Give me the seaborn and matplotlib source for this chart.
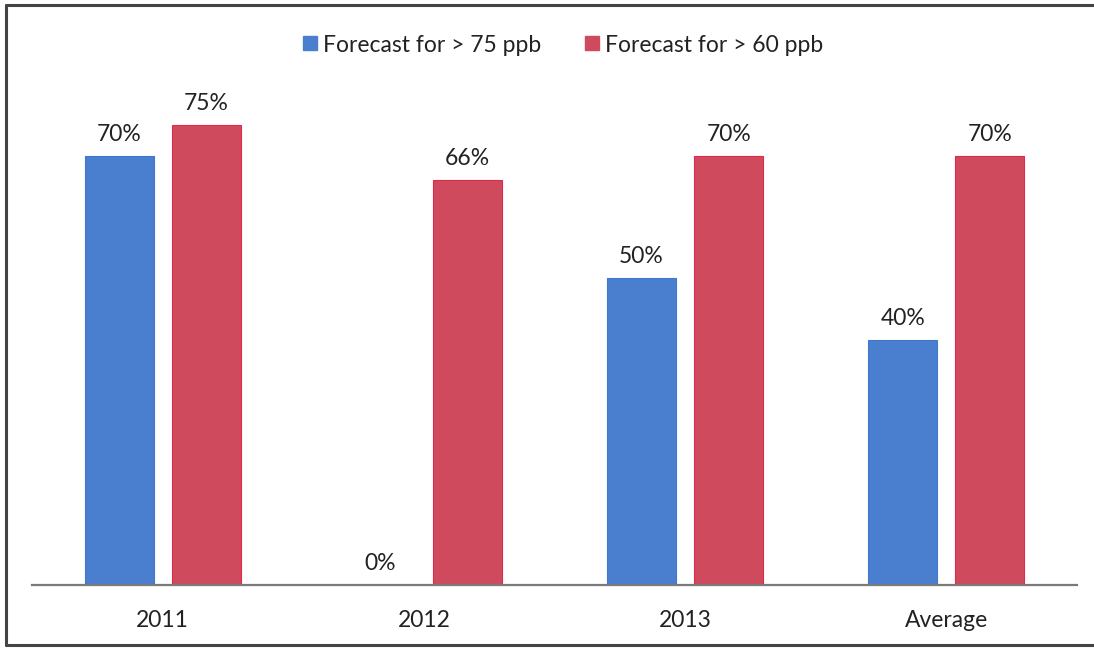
import matplotlib
matplotlib.use("Agg")
import matplotlib.pyplot as plt
import seaborn as sns
import pandas as pd
from matplotlib.lines import Line2D

categories = ["2011", "2012", "2013", "Average"]
series_names = ["Forecast for > 75 ppb", "Forecast for > 60 ppb"]
above_75 = [0.70, 0.00, 0.50, 0.40]
above_60 = [0.75, 0.66, 0.70, 0.70]

df = pd.DataFrame({
    "year": categories * 2,
    "series": [series_names[0]] * 4 + [series_names[1]] * 4,
    "share": above_75 + above_60,
})

sns.set_theme(style="white")
plt.rcParams["font.family"] = ["Lato", "DejaVu Sans"]

palette = {series_names[0]: "#4a7fd0", series_names[1]: "#cf4a5d"}
text_color = "#222222"
fs = 16.5

fig = plt.figure(figsize=(10.94, 6.48), dpi=100)
ax = fig.add_axes([32 / 1094, 63 / 648, 1045 / 1094, 0.9 * 613 / 648])

sns.barplot(data=df, x="year", y="share", hue="series", order=categories,
            hue_order=series_names, palette=palette, width=0.667, gap=0.207,
            saturation=1, legend=False, ax=ax)

edge = {0: "#3f78cc", 1: "#e02a4c"}
for i, cont in enumerate(ax.containers):
    for bar in cont:
        bar.set_edgecolor(edge[i])
        bar.set_linewidth(0.8)
    ax.bar_label(cont, labels=[f"{v:.0%}" for v in cont.datavalues],
                 padding=8, fontsize=fs, color=text_color)

ax.set_ylim(0, 0.9)
ax.set_xlim(-0.5, 3.5)
ax.set_xlabel("")
ax.set_ylabel("")
ax.set_yticks([])
ax.tick_params(axis="x", length=0, pad=18, labelsize=fs, labelcolor=text_color)
for s in ["top", "left", "right"]:
    ax.spines[s].set_visible(False)
ax.spines["bottom"].set_color("#7a7a7a")
ax.spines["bottom"].set_linewidth(1.6)

handles = [Line2D([], [], marker="s", linestyle="", markersize=10,
                  markerfacecolor=palette[n], markeredgecolor=palette[n])
           for n in series_names]
fig.legend(handles, series_names, loc="center", bbox_to_anchor=(562 / 1094, 1 - 45 / 648),
           ncol=2, frameon=False, fontsize=fs, handletextpad=0.15,
           columnspacing=1.85, handlelength=0.8, labelcolor=text_color)

# outer frame around the chart
frame_kw = dict(color="#444444", linewidth=2.2, transform=fig.transFigure)
fig.add_artist(Line2D([6 / 1094, 6 / 1094], [1 - 5 / 648, 1 - 645 / 648], **frame_kw))
fig.add_artist(Line2D([6 / 1094, 1.0], [1 - 5 / 648, 1 - 5 / 648], **frame_kw))
fig.add_artist(Line2D([6 / 1094, 1.0], [1 - 645 / 648, 1 - 645 / 648], **frame_kw))

fig.savefig("out.png", dpi=100)
